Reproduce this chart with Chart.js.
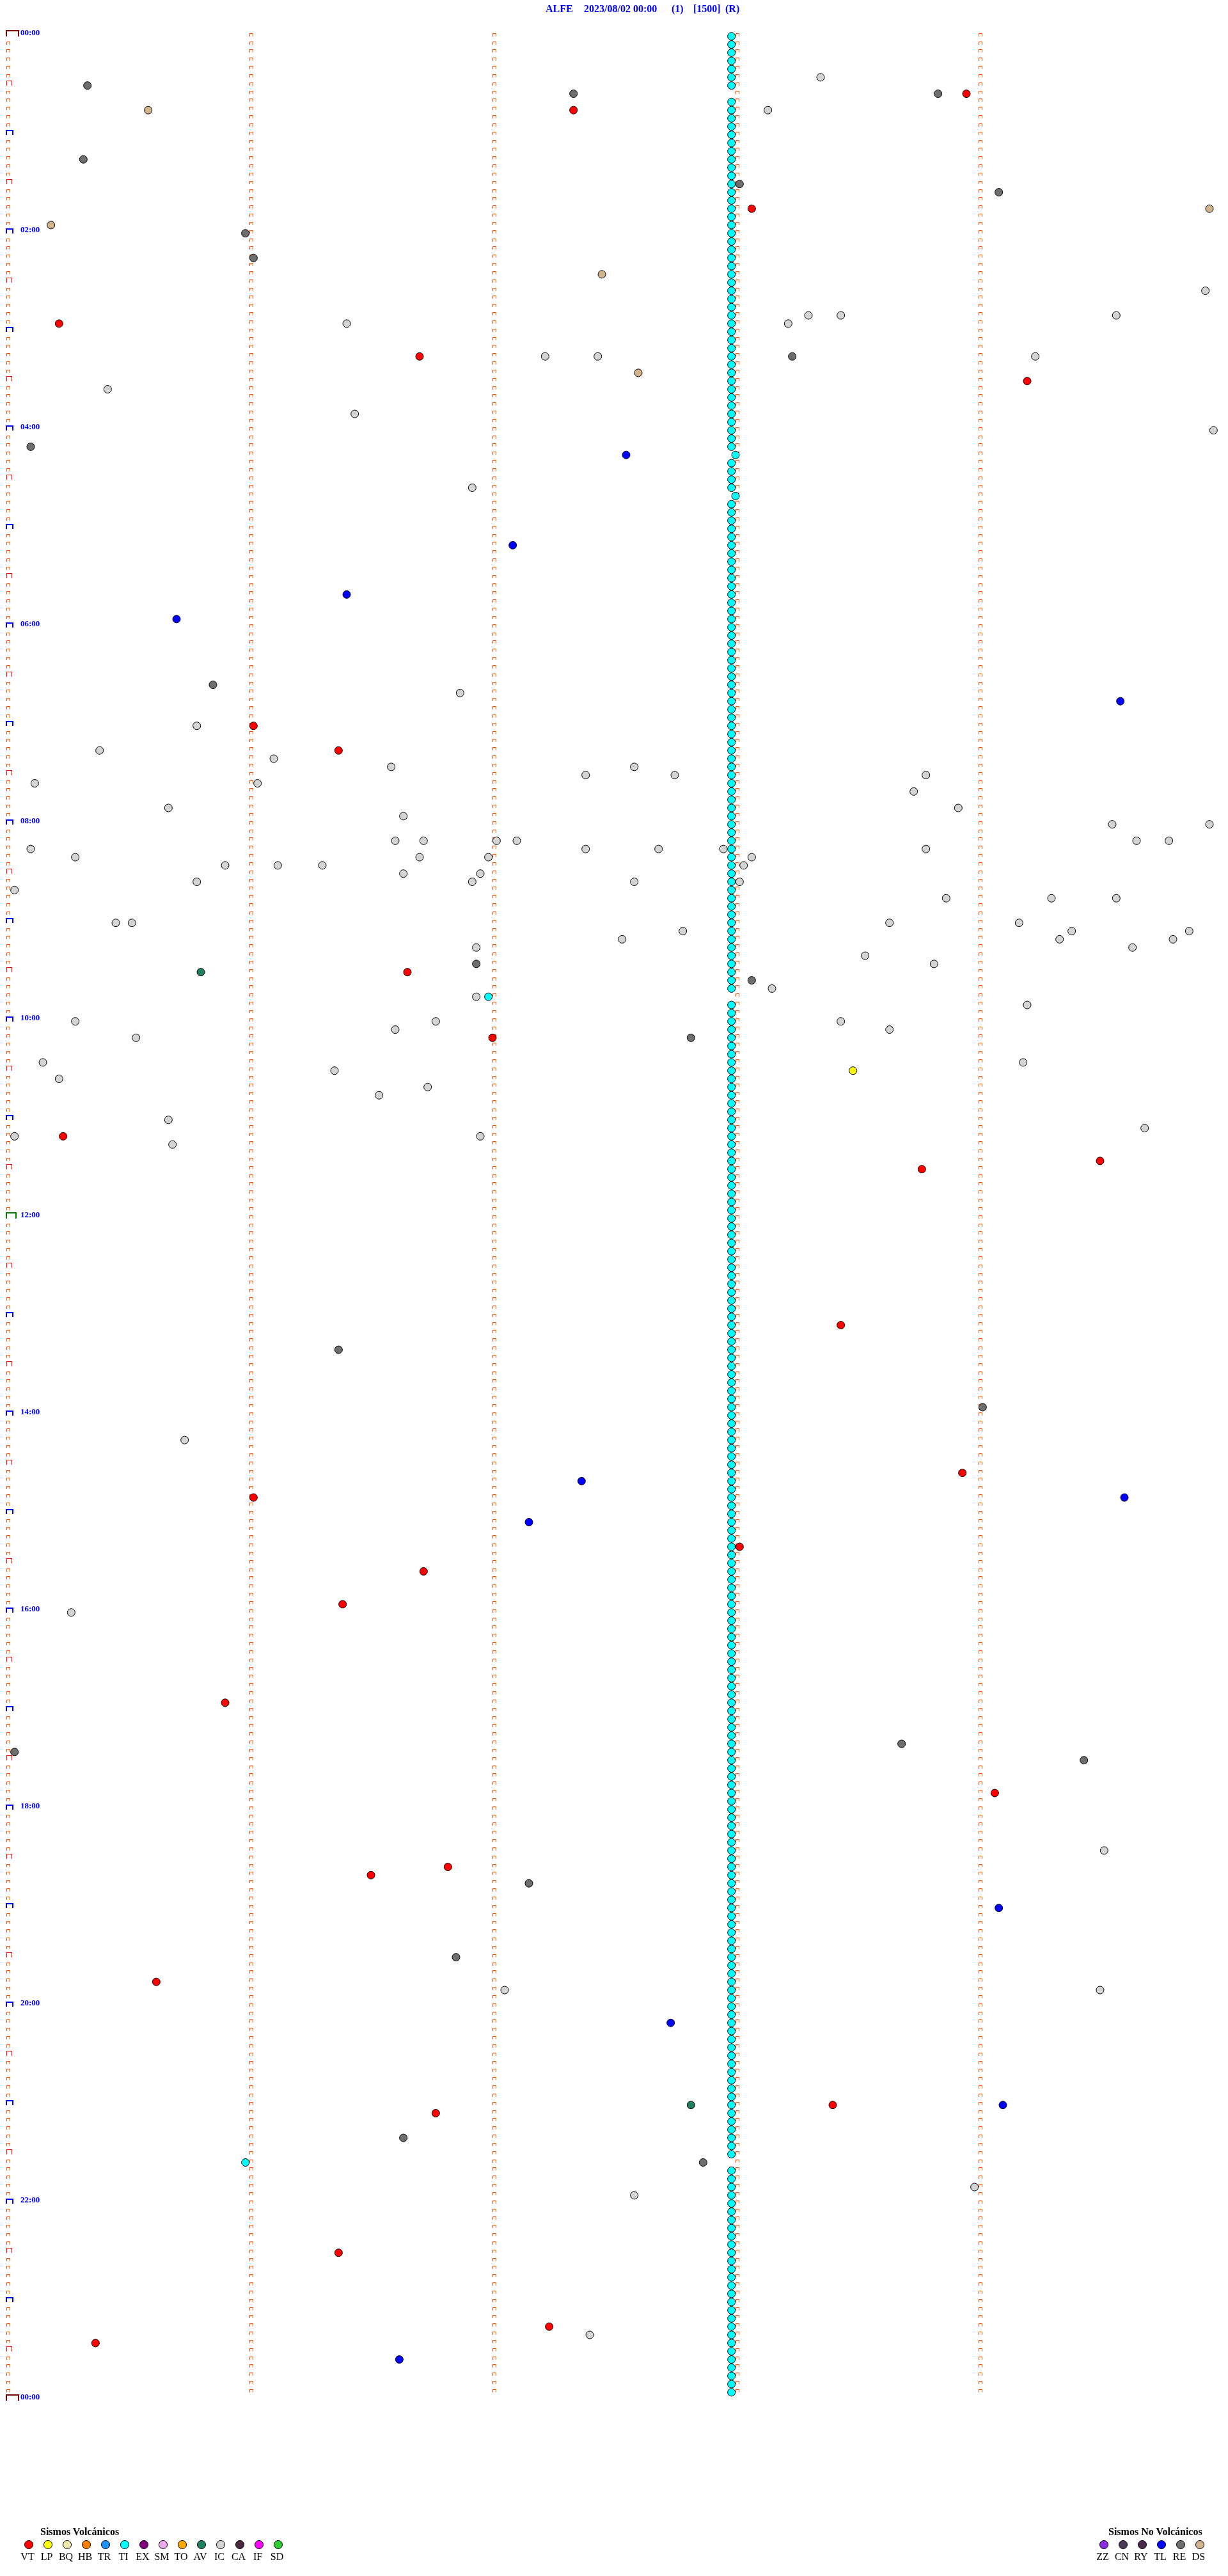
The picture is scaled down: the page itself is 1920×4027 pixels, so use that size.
<!DOCTYPE html>
<html>
<head>
<meta charset="utf-8">
<title>ALFE 2023/08/02</title>
<script src="https://cdn.jsdelivr.net/npm/chart.js@4.4.0/dist/chart.umd.min.js"></script>
<style>
  html, body { margin: 0; padding: 0; background: #fff; }
  #wrap { position: relative; width: 1920px; height: 4027px; overflow: hidden; }
  #plot { position: absolute; left: 0; top: 0; }
  .title { position: absolute; top: 5px; line-height: 16px; font: bold 16px "Liberation Serif", serif; color: #0000ff; white-space: pre; }
  .legTitle { position: absolute; top: 3949px; line-height: 16px; font: bold 16px "Liberation Serif", serif; color: #000; white-space: pre; }
  .legDot { position: absolute; top: 3971px; width: 12px; height: 12px; border: 1px solid #000; border-radius: 50%; }
  .legLabel { position: absolute; top: 3988px; width: 40px; line-height: 16px; text-align: center; font: 16px "Liberation Serif", serif; color: #000; }
</style>
</head>
<body>
<div id="wrap">
  <canvas id="plot" width="1920" height="4027"></canvas>
  <span class="title" style="left:853px">ALFE</span>
  <span class="title" style="left:913px">2023/08/02 00:00</span>
  <span class="title" style="left:1050px">(1)</span>
  <span class="title" style="left:1084px">[1500]</span>
  <span class="title" style="left:1134px">(R)</span>
  <span class="legTitle" style="left:63px">Sismos Volcánicos</span>
  <span class="legTitle" style="left:1733px">Sismos No Volcánicos</span>
  <div id="legends"></div>
</div>
<script>
// ---------- event types / colours ----------
const volcTypes  = ["VT","LP","BQ","HB","TR","TI","EX","SM","TO","AV","IC","CA","IF","SD"];
const volcColors = ["#ff0000","#ffff00","#eee8aa","#ff8000","#1e90ff","#00ffff","#800080","#eeaaee","#ffa500","#208060","#d4d4d4","#4a2840","#ff00ff","#32cd32"];
const nonVolcTypes  = ["ZZ","CN","RY","TL","RE","DS"];
const nonVolcColors = ["#8a2be2","#4a3a5a","#4a2a4a","#0000ff","#6e6e6e","#d2b48c"];

// ---------- axis: 5-minute rows, 5 one-minute columns ----------
const rowCount = 288;          // 24 h of 5-minute lines
const minuteMarks = [0, 1, 2, 3, 4];
const labelRows = [0, 24, 48, 72, 96, 120, 144, 168, 192, 216, 240, 264, 288];
const hourLabels = ["00:00","02:00","04:00","06:00","08:00","10:00","12:00","14:00","16:00","18:00","20:00","22:00","00:00"];

// ---------- events (time of day) ----------
const vtTimes = ["00:38:57","00:47:20","01:48:04","02:55:13","03:16:42","03:34:12","07:01:01","07:16:22","09:31:39","10:12:00",
  "11:10:14","11:29:30","11:33:46","13:08:26","14:38:56","14:51:01","15:23:01","15:36:43","15:56:23","16:55:54",
  "17:54:04","18:36:49","18:41:30","19:45:37","21:03:24","21:06:46","22:31:22","23:17:14","23:25:22"];

const lpTimes = ["10:33:29"];

const avTimes = ["09:30:48","21:02:49"];

const icTimes = ["00:28:21","00:48:08","02:39:56","02:53:18","02:53:26","02:54:34","02:56:24","02:58:13","03:17:13","03:17:26",
  "03:19:14","03:35:25","03:51:26","04:04:58","04:36:55","06:41:52","07:00:47","07:15:23","07:21:06","07:26:35",
  "07:27:35","07:32:23","07:32:45","07:33:47","07:35:07","07:36:02","07:43:44","07:50:40","07:53:55","07:56:38",
  "08:04:33","08:04:57","08:11:36","08:11:43","08:12:01","08:12:06","08:14:39","08:14:47","08:15:06","08:17:23",
  "08:17:41","08:17:57","08:18:47","08:20:17","08:21:42","08:21:59","08:23:04","08:25:54","08:26:07","08:26:18",
  "08:28:02","08:31:38","08:31:57","08:35:47","08:36:55","08:37:35","08:38:01","08:40:02","08:48:52","08:49:18",
  "08:49:34","09:00:27","09:00:31","09:03:38","09:04:10","09:07:47","09:09:23","09:09:52","09:12:32","09:14:20",
  "09:14:48","09:16:56","09:19:38","09:23:32","09:28:49","09:43:09","09:46:56","09:54:12","10:00:17","10:01:46",
  "10:03:26","10:06:36","10:08:38","10:10:32","10:25:09","10:29:11","10:31:21","10:35:13","10:41:44","10:46:32",
  "11:00:40","11:09:41","11:10:02","11:11:57","11:15:41","14:15:44","16:00:16","18:29:31","19:52:03","19:54:30",
  "21:53:59","21:57:35","23:22:24"];

const tlTimes = ["04:17:33","05:12:05","05:41:24","05:55:42","06:49:35","14:42:22","14:54:36","15:07:09","19:04:05","20:12:44",
  "21:04:06","23:36:37"];

const reTimes = ["00:30:20","00:37:20","00:38:50","01:15:19","01:33:01","01:39:05","02:00:59","02:16:01","03:18:14","04:10:06",
  "06:35:51","09:26:56","09:38:04","10:12:49","13:21:22","13:59:01","17:23:41","17:25:02","17:34:26","18:47:09",
  "19:31:51","21:21:38","21:37:52"];

const dsTimes = ["00:45:35","01:49:57","01:55:11","02:27:27","03:27:36"];

const tiTimes = [
  "00:02:59","00:07:59","00:12:59","00:17:59","00:22:59","00:27:59","00:32:59","00:42:59","00:47:59","00:52:59","00:57:59",
  "01:02:59","01:07:59","01:12:59","01:17:59","01:22:59","01:27:59","01:32:59","01:37:59","01:42:59","01:47:59","01:52:59","01:57:59",
  "02:02:59","02:07:59","02:12:59","02:17:59","02:22:59","02:27:59","02:32:59","02:37:59","02:42:59","02:47:59","02:52:59","02:57:59",
  "03:02:59","03:07:59","03:12:59","03:17:59","03:22:59","03:27:59","03:32:59","03:37:59","03:42:59","03:47:59","03:52:59","03:57:59",
  "04:02:59","04:07:59","04:12:59","04:18:00","04:22:59","04:27:59","04:32:59","04:37:59","04:43:00","04:47:59","04:52:59","04:57:59",
  "05:02:59","05:07:59","05:12:59","05:17:59","05:22:59","05:27:59","05:32:59","05:37:59","05:42:59","05:47:59","05:52:59","05:57:59",
  "06:02:59","06:07:59","06:12:59","06:17:59","06:22:59","06:27:59","06:32:59","06:37:59","06:42:59","06:47:59","06:52:59","06:57:59",
  "07:02:59","07:07:59","07:12:59","07:17:59","07:22:59","07:27:59","07:32:59","07:37:59","07:42:59","07:47:59","07:52:59","07:57:59",
  "08:02:59","08:07:59","08:12:59","08:17:59","08:22:59","08:27:59","08:32:59","08:37:59","08:42:59","08:47:59","08:52:59","08:57:59",
  "09:02:59","09:07:59","09:12:59","09:17:59","09:22:59","09:27:59","09:32:59","09:37:59","09:42:59","09:46:59","09:52:59","09:57:59",
  "10:02:59","10:07:59","10:12:59","10:17:59","10:22:59","10:27:59","10:32:59","10:37:59","10:42:59","10:47:59","10:52:59","10:57:59",
  "11:02:59","11:07:59","11:12:59","11:17:59","11:22:59","11:27:59","11:32:59","11:37:59","11:42:59","11:47:59","11:52:59","11:57:59",
  "12:02:59","12:07:59","12:12:59","12:17:59","12:22:59","12:27:59","12:32:59","12:37:59","12:42:59","12:47:59","12:52:59","12:57:59",
  "13:02:59","13:07:59","13:12:59","13:17:59","13:22:59","13:27:59","13:32:59","13:37:59","13:42:59","13:47:59","13:52:59","13:57:59",
  "14:02:59","14:07:59","14:12:59","14:17:59","14:22:59","14:27:59","14:32:59","14:37:59","14:42:59","14:47:59","14:52:59","14:57:59",
  "15:02:59","15:07:59","15:12:59","15:17:59","15:22:59","15:27:59","15:32:59","15:37:59","15:42:59","15:47:59","15:52:59","15:57:59",
  "16:02:59","16:07:59","16:12:59","16:17:59","16:22:59","16:27:59","16:32:59","16:37:59","16:42:59","16:47:59","16:52:59","16:57:59",
  "17:02:59","17:07:59","17:12:59","17:17:59","17:22:59","17:27:59","17:32:59","17:37:59","17:42:59","17:47:59","17:52:59","17:57:59",
  "18:02:59","18:07:59","18:12:59","18:17:59","18:22:59","18:27:59","18:32:59","18:37:59","18:42:59","18:47:59","18:52:59","18:57:59",
  "19:02:59","19:07:59","19:12:59","19:17:59","19:22:59","19:27:59","19:32:59","19:37:59","19:42:59","19:47:59","19:52:59","19:57:59",
  "20:02:59","20:07:59","20:12:59","20:17:59","20:22:59","20:27:59","20:32:59","20:37:59","20:42:59","20:47:59","20:52:59","20:57:59",
  "21:02:59","21:07:59","21:12:59","21:17:59","21:22:59","21:27:59","21:32:59","21:35:59","21:42:59","21:47:59","21:52:59","21:57:59",
  "22:02:59","22:07:59","22:12:59","22:17:59","22:22:59","22:27:59","22:32:59","22:37:59","22:42:59","22:47:59","22:52:59","22:57:59",
  "23:02:59","23:07:59","23:12:59","23:17:59","23:22:59","23:27:59","23:32:59","23:37:59","23:42:59","23:47:59","23:52:59","23:57:59"];

// ---------- helpers ----------
function colorOf(type) {
  let i = volcTypes.indexOf(type);
  if (i >= 0) return volcColors[i];
  i = nonVolcTypes.indexOf(type);
  return nonVolcColors[i];
}

// "HH:MM:SS" -> {x: minutes inside the 5-min line, y: line number}
function toPoint(t) {
  const [h, m, s] = t.split(":").map(Number);
  const sec = h * 3600 + m * 60 + s;
  const row = Math.floor(sec / 300);
  return { x: (sec - row * 300) / 60, y: row };
}

function makeSet(type, times) {
  return {
    label: type,
    data: times.map(toPoint),
    pointRadius: 6,
    pointBorderWidth: 1,
    pointBorderColor: "#000",
    pointBackgroundColor: colorOf(type),
    showLine: false,
    clip: false
  };
}

/* ---------- the little ⊓ time marks ---------- */
const bracketPlugin = {
  id: "brackets",
  beforeDatasetsDraw(chart) {
    const { ctx, scales: { x, y } } = chart;
    const mark = (px, py, w, h, lw, color) => {
      px = Math.round(px); py = Math.round(py);
      ctx.fillStyle = color;
      ctx.fillRect(px, py - h, w, lw);
      ctx.fillRect(px, py - h, lw, h);
      ctx.fillRect(px + w - lw, py - h, lw, h);
    };
    ctx.save();
    for (let r = 0; r <= rowCount; r++) {
      const py = y.getPixelForValue(r);
      const px0 = x.getPixelForValue(minuteMarks[0]);
      if (r % 144 === 0) {
        if (r === 144) mark(px0 - 1, py, 17, 10, 2, "#008000");
        else mark(px0 - 1, py, 21, 10, 2, "#800000");
      } else if (r % 12 === 0) {
        mark(px0 - 1, py, 12, 8, 2, "#0000ff");
      } else if (r % 6 === 0) {
        mark(px0, py, 9, 8, 1, "#ff0000");
      } else {
        mark(px0, py, 6, 5, 1, "#ff4d00");
      }
      if (r < rowCount) {
        minuteMarks.slice(1).forEach(c => mark(x.getPixelForValue(c), py, 6, 5, 1, "#ff4d00"));
      }
    }
    ctx.restore();
  }
};

/* ---------- chart ---------- */
const datasets = [
  makeSet("VT", vtTimes),
  makeSet("LP", lpTimes),
  makeSet("AV", avTimes),
  makeSet("TL", tlTimes),
  makeSet("RE", reTimes),
  makeSet("DS", dsTimes),
  makeSet("IC", icTimes),
  makeSet("TI", tiTimes)      // last = drawn underneath
];

new Chart(document.getElementById("plot"), {
  type: "scatter",
  data: { datasets },
  options: {
    responsive: false,
    animation: false,
    devicePixelRatio: 1,
    events: [],
    layout: { padding: { left: 10, right: 10, top: 56.7, bottom: 274.3 } },
    plugins: { legend: { display: false }, tooltip: { enabled: false } },
    scales: {
      x: { type: "linear", min: 0, max: 5, display: false },
      y: {
        type: "linear", min: 0, max: rowCount, reverse: true, position: "left",
        grid: { display: false },
        border: { display: false },
        afterFit: s => { s.width = 0; },
        afterBuildTicks: s => { s.ticks = labelRows.map(v => ({ value: v })); },
        ticks: {
          mirror: true, padding: 22, labelOffset: -5,
          color: "#0000ff",
          font: { family: "Liberation Serif", size: 13, weight: "bold" },
          callback: (v, i) => hourLabels[i]
        }
      }
    }
  },
  plugins: [bracketPlugin]
});

/* ---------- bottom legends ---------- */
function addLegend(types, colors, firstX) {
  const box = document.getElementById("legends");
  types.forEach((t, i) => {
    const cx = firstX + i * 30;
    const dot = document.createElement("div");
    dot.className = "legDot";
    dot.style.left = (cx - 7) + "px";
    dot.style.background = colors[i];
    box.appendChild(dot);
    const lab = document.createElement("div");
    lab.className = "legLabel";
    lab.style.left = (cx - 22) + "px";
    lab.textContent = t;
    box.appendChild(lab);
  });
}
addLegend(volcTypes, volcColors, 45);
addLegend(nonVolcTypes, nonVolcColors, 1726);
</script>
</body>
</html>
